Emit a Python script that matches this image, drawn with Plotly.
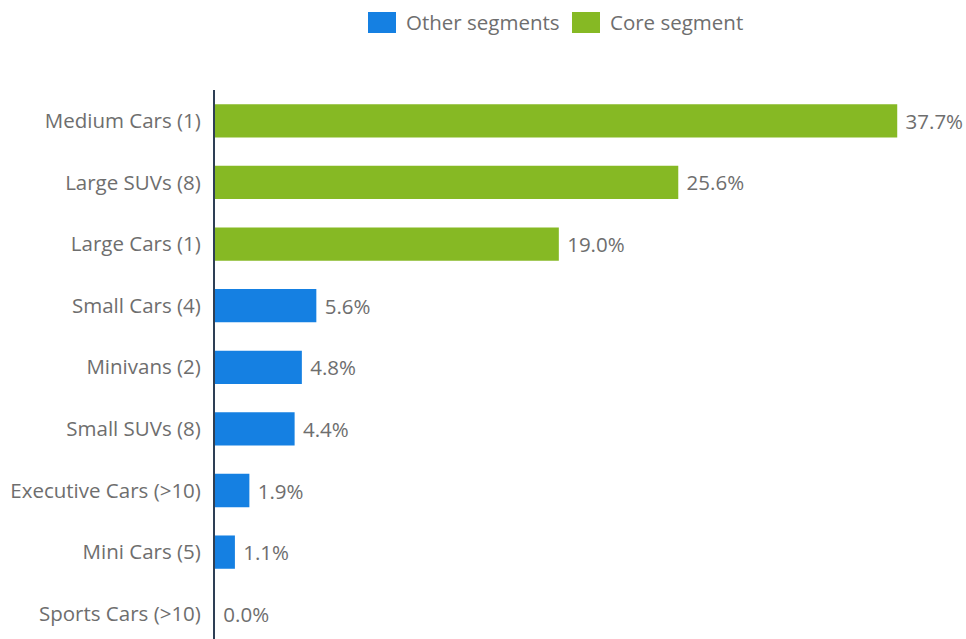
import plotly.graph_objects as go

categories = ["Medium Cars (1)", "Large SUVs (8)", "Large Cars (1)", "Small Cars (4)",
              "Minivans (2)", "Small SUVs (8)", "Executive Cars (>10)", "Mini Cars (5)",
              "Sports Cars (>10)"]
values = [37.7, 25.6, 19.0, 5.6, 4.8, 4.4, 1.9, 1.1, 0.0]
core = [True, True, True, False, False, False, False, False, False]
legend_names = ["Other segments", "Core segment"]

BLUE = "#1580e2"
GREEN = "#86b924"
GRAY = "#6e6e6e"
FONT = "Open Sans, sans-serif"
FS = 20.5

oth_y = [c for c, k in zip(categories, core) if not k]
oth_x = [v for v, k in zip(values, core) if not k]
core_y = [c for c, k in zip(categories, core) if k]
core_x = [v for v, k in zip(values, core) if k]

fig = go.Figure()
for name, ys, xs, col in [(legend_names[0], oth_y, oth_x, BLUE),
                          (legend_names[1], core_y, core_x, GREEN)]:
    fig.add_trace(go.Bar(name=name, y=ys, x=xs, orientation="h", marker_color=col,
                         marker_line_width=0, texttemplate=" %{x:.1f}%",
                         textposition="outside", showlegend=False,
                         textfont=dict(size=FS, color=GRAY, family=FONT), cliponaxis=False))

# legend drawn as swatches + real text (larger swatches than plotly's default)
L, T, H = 215, 90, 549
def px(x):
    return (x - L) / 751.0
def py(y):
    return (639 - y) / H

legend_items = [(legend_names[0], BLUE, 368), (legend_names[1], GREEN, 572)]
for name, col, x0 in legend_items:
    fig.add_shape(type="rect", xref="paper", yref="paper",
                  x0=px(x0), x1=px(x0 + 28), y0=py(33), y1=py(12),
                  fillcolor=col, line_width=0)
    fig.add_annotation(text=name, xref="paper", yref="paper", x=px(x0 + 36), y=py(22.5),
                       xanchor="left", yanchor="middle", showarrow=False,
                       font=dict(size=FS, color=GRAY, family=FONT))

fig.update_layout(
    width=966, height=639,
    margin=dict(l=215, r=0, t=90, b=0),
    paper_bgcolor="white", plot_bgcolor="white",
    barmode="overlay", bargap=0.46,
    font=dict(family=FONT, size=FS, color=GRAY),
    showlegend=False,
    xaxis=dict(range=[0, 41.5], showgrid=False, zeroline=False, showticklabels=False,
               showline=False, fixedrange=True),
    yaxis=dict(categoryorder="array", categoryarray=categories, range=[8.41, -0.5],
               showgrid=False, zeroline=False, showline=True, linecolor="#2e3f55",
               linewidth=2, ticks="", ticklabelstandoff=8, automargin=False,
               tickfont=dict(size=FS, color=GRAY, family=FONT)),
)

fig.write_html("out.html")
